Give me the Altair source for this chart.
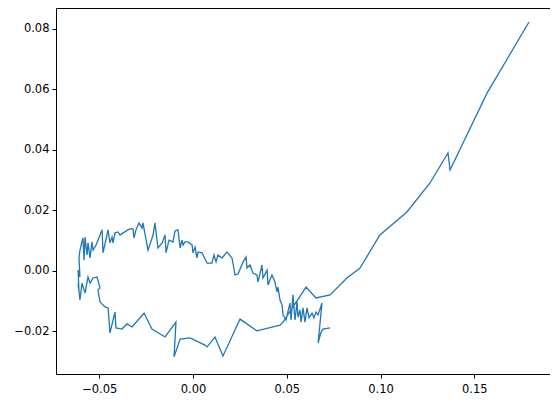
import altair as alt
import pandas as pd

# trajectory points, in drawing order (data coordinates)
xs = [
    0.1792, 0.1568, 0.1371, 0.1360, 0.1264, 0.1141, 0.0997, 0.0891, 0.0821, 0.0731,
    0.0656, 0.0603, 0.0480,
    0.0464, 0.0341, 0.0251, 0.0160, 0.0117, 0.0075, 0.0064, -0.0016, -0.0069, -0.0101,
    -0.0091, -0.0149, -0.0219, -0.0261, -0.0293, -0.0325, -0.0352, -0.0379, -0.0411,
    -0.0416, -0.0443, -0.0453, -0.0469, -0.0496, -0.0507, -0.0496, -0.0512, -0.0533,
    -0.0549, -0.0560, -0.0576, -0.0592, -0.0603,
    -0.0613, -0.0608, -0.0613, -0.0603, -0.0608, -0.0603,
    -0.0587, -0.0581, -0.0576, -0.0565, -0.0560, -0.0549, -0.0539, -0.0533, -0.0517,
    -0.0507, -0.0485, -0.0480, -0.0459, -0.0453, -0.0443, -0.0432, -0.0427, -0.0416,
    -0.0400, -0.0389, -0.0373, -0.0347, -0.0336, -0.0320, -0.0315, -0.0304, -0.0288,
    -0.0272, -0.0267, -0.0240, -0.0213, -0.0203, -0.0187, -0.0165, -0.0149, -0.0144,
    -0.0128, -0.0107, -0.0096, -0.0080, -0.0069, -0.0059, -0.0053, -0.0043, -0.0027,
    -0.0005, 0.0000, 0.0011, 0.0021, 0.0027, 0.0048, 0.0075, 0.0101, 0.0112, 0.0123,
    0.0133, 0.0155, 0.0181, 0.0208, 0.0224, 0.0240, 0.0267, 0.0283, 0.0288, 0.0304,
    0.0320, 0.0341, 0.0347, 0.0368, 0.0373, 0.0395, 0.0400, 0.0421, 0.0437, 0.0448,
    0.0453, 0.0464, 0.0475, 0.0480,
    0.0496, 0.0517, 0.0523, 0.0533, 0.0544, 0.0555, 0.0560, 0.0571, 0.0576, 0.0587,
    0.0597, 0.0608, 0.0619, 0.0635, 0.0645, 0.0656, 0.0667, 0.0688, 0.0667, 0.0683,
    0.0693, 0.0731,
]
ys = [
    0.0823, 0.0588, 0.0334, 0.0390, 0.0291, 0.0195, 0.0119, 0.0010, -0.0023, -0.0079,
    -0.0089, -0.0053, -0.0169,
    -0.0179, -0.0198, -0.0159, -0.0281, -0.0218, -0.0251, -0.0245, -0.0221, -0.0225, -0.0284,
    -0.0169, -0.0218, -0.0192, -0.0139, -0.0162, -0.0185, -0.0175, -0.0192, -0.0188,
    -0.0136, -0.0205, -0.0122, -0.0119, -0.0102, -0.0063, -0.0056, -0.0020, -0.0023,
    -0.0040, -0.0020, -0.0073, -0.0040, -0.0096,
    -0.0040, -0.0069, 0.0003, -0.0020, 0.0043, 0.0069,
    0.0109, 0.0036, 0.0112, 0.0053, 0.0093, 0.0043, 0.0096, 0.0069, 0.0086,
    0.0102, 0.0136, 0.0060, 0.0119, 0.0136, 0.0093, 0.0112, 0.0093, 0.0126,
    0.0129, 0.0119, 0.0126, 0.0136, 0.0139, 0.0139, 0.0109, 0.0136, 0.0159,
    0.0142, 0.0159, 0.0069, 0.0119, 0.0159, 0.0076, 0.0093, 0.0119, 0.0060,
    0.0102, 0.0096, 0.0132, 0.0136, 0.0076, 0.0102, 0.0086, 0.0096, 0.0096,
    0.0086, 0.0060, 0.0079, 0.0043, 0.0063, 0.0060, 0.0026, 0.0026, 0.0053, 0.0030,
    0.0053, 0.0043, 0.0063, 0.0043, -0.0013, -0.0010, 0.0030, 0.0046, 0.0010, 0.0020,
    -0.0007, -0.0013, -0.0036, 0.0020, -0.0023, 0.0003, -0.0046, -0.0013, -0.0036, -0.0069,
    -0.0053, -0.0096, -0.0112, -0.0145,
    -0.0162, -0.0106, -0.0162, -0.0079, -0.0162, -0.0102, -0.0152, -0.0129, -0.0169, -0.0122,
    -0.0169, -0.0122, -0.0155, -0.0139, -0.0155, -0.0136, -0.0145, -0.0106, -0.0238, -0.0202,
    -0.0192, -0.0188,
]

x_ticks = [-0.05, 0.0, 0.05, 0.10, 0.15]
y_ticks = [-0.02, 0.0, 0.02, 0.04, 0.06, 0.08]

df = pd.DataFrame({"x": xs, "y": ys, "i": list(range(len(xs)))})

chart = (
    alt.Chart(df)
    .mark_line(color="#1f77b4", strokeWidth=1.3)
    .encode(
        x=alt.X(
            "x:Q",
            scale=alt.Scale(domain=[-0.07307, 0.19040], nice=False, zero=False),
            axis=alt.Axis(values=x_ticks, format=".2f", title=None, labelPadding=5),
        ),
        y=alt.Y(
            "y:Q",
            scale=alt.Scale(domain=[-0.03405, 0.08694], nice=False, zero=False),
            axis=alt.Axis(values=y_ticks, format=".2f", title=None),
        ),
        order="i:Q",
    )
    .properties(
        width=494,
        height=366,
        autosize=alt.AutoSizeParams(type="none"),
        padding={"left": 48, "top": 0, "right": 0, "bottom": 21},
    )
    .configure_view(stroke="black", strokeWidth=1)
    .configure_axis(
        domain=False,
        grid=False,
        ticks=True,
        tickColor="black",
        tickSize=4,
        tickWidth=1,
        labelPadding=3,
        labelFont="DejaVu Sans",
        labelFontSize=11.5,
        labelColor="black",
    )
)

chart.save("out.html", embed_options={"renderer": "svg", "actions": False})
